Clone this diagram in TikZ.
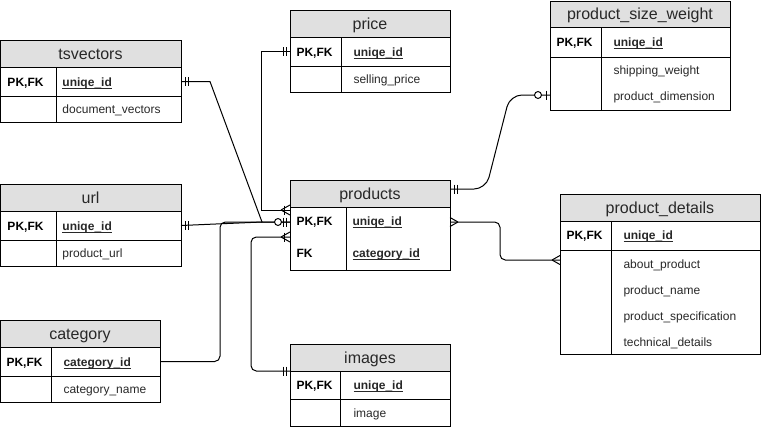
\documentclass[tikz,border=0pt]{standalone}
\usepackage{fontspec}
\setmainfont{Liberation Sans}
\usetikzlibrary{calc}
\definecolor{hdr}{RGB}{224,224,224}
\definecolor{txt}{RGB}{40,40,40}
\newcommand\ulfld[1]{\setbox0\hbox{#1}\rlap{\rule[-1.7pt]{\wd0}{0.55pt}}\box0}
\tikzset{
  box/.style 2 args={draw, inner sep=0pt, outer sep=0pt, anchor=north west,
    minimum width=#1*0.75pt, minimum height=#2*0.75pt},
  hbox/.style 2 args={box={#1}{#2}, fill=hdr},
  ttl/.style={anchor=base, inner sep=0pt, font=\fontsize{12}{14}\selectfont, text=txt},
  keyt/.style={anchor=base west, inner sep=0pt, font=\fontsize{9}{11}\selectfont\bfseries},
  pkf/.style={anchor=base west, inner sep=0pt, font=\fontsize{9}{11}\selectfont\bfseries, text=txt},
  fld/.style={anchor=base west, inner sep=0pt, font=\fontsize{9}{11}\selectfont, text=txt},
  conn/.style={draw, line width=0.75pt}
}
\newcommand\mandOne[2]{%
  \draw ($(#1)+(#2*4,-4.5)$) -- ++(0,9) ($(#1)+(#2*7,-4.5)$) -- ++(0,9);}
\newcommand\zeroOne[2]{%
  \draw ($(#1)+(#2*4,-4.5)$) -- ++(0,9);
  \draw[fill=white] ($(#1)+(#2*12,0)$) circle[radius=2.6pt];}
\newcommand\crowMany[2]{%
  \draw ($(#1)+(#2*8,0)$) -- ($(#1)+(0,-4.5)$) ($(#1)+(#2*8,0)$) -- ($(#1)+(0,4.5)$);}
\newcommand\oneMany[2]{%
  \draw ($(#1)+(#2*9,0)$) -- ($(#1)+(0,-5)$) ($(#1)+(#2*9,0)$) -- ($(#1)+(0,5)$);
  \draw ($(#1)+(#2*6,-4.5)$) -- ++(0,9);}
\begin{document}
\begin{tikzpicture}[x=0.75pt,y=-0.75pt,line width=0.75pt]
\useasboundingbox (0,0) rectangle (761,430);

% ---------- tsvectors ----------
\node[hbox={180.5}{27}] (tsvT) at (0.5,40) {};
\node[ttl] (tsvTt) at (90.5,59) {tsvectors};
\node[box={55.5}{29}] (tsvK1) at (0.5,67) {};
\node[box={125}{29}] (tsvF1) at (56,67) {};
\node[box={55.5}{26}] (tsvK2) at (0.5,96) {};
\node[box={125}{26}] (tsvF2) at (56,96) {};
\node[keyt] (tsvk) at (7,86) {PK,FK};
\node[pkf] (tsvp) at (62,86) {\ulfld{uniqe\_id}};
\node[fld] (tsvd) at (62,113.5) {document\_vectors};

% ---------- url ----------
\node[hbox={180.5}{27}] (urlT) at (0.5,184) {};
\node[ttl] (urlTt) at (90.5,203) {url};
\node[box={55.5}{29}] (urlK1) at (0.5,211) {};
\node[box={125}{29}] (urlF1) at (56,211) {};
\node[box={55.5}{26}] (urlK2) at (0.5,240) {};
\node[box={125}{26}] (urlF2) at (56,240) {};
\node[keyt] (urlk) at (7,230) {PK,FK};
\node[pkf] (urlp) at (62,230) {\ulfld{uniqe\_id}};
\node[fld] (urld) at (62,257.5) {product\_url};

% ---------- category ----------
\node[hbox={159.5}{27}] (catT) at (0.5,320) {};
\node[ttl] (catTt) at (80,339) {category};
\node[box={50.5}{29}] (catK1) at (0.5,347) {};
\node[box={109}{29}] (catF1) at (51,347) {};
\node[box={50.5}{26}] (catK2) at (0.5,376) {};
\node[box={109}{26}] (catF2) at (51,376) {};
\node[keyt] (catk) at (6,366) {PK,FK};
\node[pkf] (catp) at (63,366) {\ulfld{category\_id}};
\node[fld] (catd) at (63,393.5) {category\_name};

% ---------- price ----------
\node[hbox={160}{27}] (prT) at (290,10) {};
\node[ttl] (prTt) at (370,29) {price};
\node[box={51}{29}] (prK1) at (290,37) {};
\node[box={109}{29}] (prF1) at (341,37) {};
\node[box={51}{26}] (prK2) at (290,66) {};
\node[box={109}{26}] (prF2) at (341,66) {};
\node[keyt] (prk) at (296,56) {PK,FK};
\node[pkf] (prp) at (353,56) {\ulfld{uniqe\_id}};
\node[fld] (prd) at (353,83.5) {selling\_price};

% ---------- products ----------
\node[hbox={160}{27}] (pdT) at (290,180) {};
\node[ttl] (pdTt) at (370,199) {products};
\node[box={56}{63}] (pdK) at (290,207) {};
\node[box={104}{63}] (pdF) at (346,207) {};
\node[keyt] (pdk1) at (296,225.5) {PK,FK};
\node[pkf] (pdp1) at (352,225.5) {\ulfld{uniqe\_id}};
\node[keyt] (pdk2) at (296,257.5) {FK};
\node[pkf] (pdp2) at (352,257.5) {\ulfld{category\_id}};

% ---------- images ----------
\node[hbox={160}{27}] (imT) at (290,344) {};
\node[ttl] (imTt) at (370,363) {images};
\node[box={50}{28}] (imK1) at (290,371) {};
\node[box={110}{28}] (imF1) at (340,371) {};
\node[box={50}{27}] (imK2) at (290,399) {};
\node[box={110}{27}] (imF2) at (340,399) {};
\node[keyt] (imk) at (296,389.5) {PK,FK};
\node[pkf] (imp) at (353,389.5) {\ulfld{uniqe\_id}};
\node[fld] (imd) at (353,417) {image};

% ---------- product_size_weight ----------
\node[hbox={180}{26}] (swT) at (550,1) {};
\node[ttl] (swTt) at (640,19.5) {product\_size\_weight};
\node[box={51}{30}] (swK1) at (550,27) {};
\node[box={129}{30}] (swF1) at (601,27) {};
\node[box={51}{53}] (swK2) at (550,57) {};
\node[box={129}{53}] (swF2) at (601,57) {};
\node[keyt] (swk) at (556,46.5) {PK,FK};
\node[pkf] (swp) at (613,46.5) {\ulfld{uniqe\_id}};
\node[fld] (swd1) at (613,74.5) {shipping\_weight};
\node[fld] (swd2) at (613,100.5) {product\_dimension};

% ---------- product_details ----------
\node[hbox={200}{27}] (dtT) at (560,194) {};
\node[ttl] (dtTt) at (660,213) {product\_details};
\node[box={51}{29}] (dtK1) at (560,221) {};
\node[box={149}{29}] (dtF1) at (611,221) {};
\node[box={51}{104}] (dtK2) at (560,250) {};
\node[box={149}{104}] (dtF2) at (611,250) {};
\node[keyt] (dtk) at (566,239.5) {PK,FK};
\node[pkf] (dtp) at (623,239.5) {\ulfld{uniqe\_id}};
\node[fld] (dtd1) at (623,268) {about\_product};
\node[fld] (dtd2) at (623,294) {product\_name};
\node[fld] (dtd3) at (623,320) {product\_specification};
\node[fld] (dtd4) at (623,346) {technical\_details};

% ---------- attachment points ----------
\coordinate (pL1) at (290,210);
\coordinate (pL2) at (290,222);
\coordinate (pL3) at (290,237);
\coordinate (pR1) at (450,189);
\coordinate (pR2) at (450,222);
\coordinate (jn) at (262,222);
\coordinate (swL) at (550,95);
\coordinate (dtL) at (560,260);

% ---------- connectors ----------
\draw (tsvF1.east) -- (210,81.5) -- (jn) -- (pL2);
\draw (urlF1.east) -- (jn);
\draw[rounded corners=4pt] (catF1.east) -- (220,361.5) -- (220,222) -- (pL2);
\draw (prK1.west) -- (261,51.5) -- (261,210) -- (pL1);
\draw[rounded corners=4pt] (imT.south west) -- (251,371) -- (251,237) -- (pL3);
\draw[rounded corners=9pt] (pR1) -- (486,189) -- (510,95) -- (swL);
\draw[rounded corners=4pt] (pR2) -- (500,222) -- (500,260) -- (dtL);

% ---------- markers ----------
\mandOne{tsvF1.east}{1}
\mandOne{urlF1.east}{1}
\mandOne{prK1.west}{-1}
\mandOne{imT.south west}{-1}
\mandOne{pR1}{1}
\mandOne{pL2}{-1}
\draw[fill=white] ($(pL2)+(-12,0)$) circle[radius=2.6pt];
\zeroOne{swL}{-1}
\oneMany{pL1}{-1}
\oneMany{pL3}{-1}
\crowMany{pR2}{1}
\crowMany{dtL}{-1}
\end{tikzpicture}
\end{document}
